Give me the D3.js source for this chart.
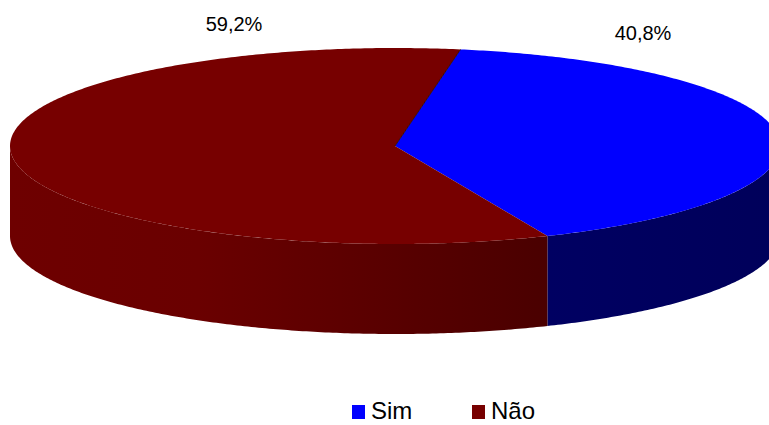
<!DOCTYPE html>
<html>
<head>
<meta charset="utf-8">
<script src="https://cdn.jsdelivr.net/npm/d3@7"></script>
<style>
  html, body { margin: 0; padding: 0; background: #fff; }
  svg { display: block; }
  text { font-family: "Liberation Sans", Arial, sans-serif; fill: #000; }
</style>
</head>
<body>
<svg id="chart" width="769" height="425"></svg>
<script>
// Data
const categories = ["Sim", "Não"];
const values = [40.8, 59.2];
const labels = ["40,8%", "59,2%"];
const topColors = ["#0000ff", "#770000"];

const svg = d3.select("#chart");

// 3D pie geometry
const cx = 395, cy = 146, rx = 385, ry = 98, depth = 90;
const startDeg = 9.8;

const pie = d3.pie()
  .sort(null)
  .value(d => d)
  .startAngle(startDeg * Math.PI / 180)
  .endAngle(startDeg * Math.PI / 180 + 2 * Math.PI);

const arcs = pie(values).map((a, i) => ({ ...a, i }));

// Point on the projected rim at angle t (clockwise from 12 o'clock)
const px = t => cx + rx * Math.sin(t);
const py = (t, dy = 0) => cy - ry * Math.cos(t) + dy;

const line = d3.line().x(d => d[0]).y(d => d[1]);

function rimPoints(a, b, dy) {
  const n = Math.max(2, Math.ceil(Math.abs(b - a) / 0.01));
  return d3.range(n + 1).map(k => {
    const t = a + (b - a) * k / n;
    return [px(t), py(t, dy)];
  });
}

const defs = svg.append("defs");

// Side wall shading
const sideGrads = [
  { id: "side0", stops: [["0%", "#000062"], ["100%", "#00005a"]] },
  { id: "side1", stops: [["0%", "#6e0000"], ["35%", "#6a0000"], ["100%", "#4a0000"]] }
];
sideGrads.forEach(g => {
  const lg = defs.append("linearGradient")
    .attr("id", g.id)
    .attr("x1", "0%").attr("x2", "100%").attr("y1", "0%").attr("y2", "0%");
  g.stops.forEach(s => lg.append("stop").attr("offset", s[0]).attr("stop-color", s[1]));
});

const gSides = svg.append("g");
const gTops = svg.append("g");

// Visible front walls: rim segment between PI/2 and 3PI/2
const front0 = Math.PI / 2, front1 = 3 * Math.PI / 2;
arcs.forEach(a => {
  // handle wrap by testing both the raw range and shifted by 2PI
  [0, -2 * Math.PI].forEach(shift => {
    const s = Math.max(a.startAngle + shift, front0);
    const e = Math.min(a.endAngle + shift, front1);
    if (e > s) {
      const topEdge = rimPoints(s, e, 0);
      const botEdge = rimPoints(e, s, depth);
      gSides.append("path")
        .attr("d", line(topEdge.concat(botEdge)) + "Z")
        .attr("fill", `url(#side${a.i})`);
    }
  });
});

// Top faces
arcs.forEach(a => {
  const pts = [[cx, cy]].concat(rimPoints(a.startAngle, a.endAngle, 0));
  gTops.append("path")
    .attr("d", line(pts) + "Z")
    .attr("fill", topColors[a.i]);
});

// Thin seam along the rear split edge
const seam = arcs[0].startAngle;
gTops.append("line")
  .attr("x1", cx).attr("y1", cy)
  .attr("x2", px(seam)).attr("y2", py(seam))
  .attr("stroke", "#220000").attr("stroke-width", 0.8);

// Percentage labels
const labelPos = [[643, 40], [234, 31]];
svg.append("g").selectAll("text")
  .data(arcs)
  .join("text")
  .attr("x", d => labelPos[d.i][0])
  .attr("y", d => labelPos[d.i][1])
  .attr("text-anchor", "middle")
  .attr("font-size", 20)
  .text(d => labels[d.i]);

// Legend
const legend = svg.append("g");
const legendX = [352, 472];
categories.forEach((c, i) => {
  legend.append("rect")
    .attr("x", legendX[i]).attr("y", 405)
    .attr("width", 13).attr("height", 14)
    .attr("fill", topColors[i]);
  legend.append("text")
    .attr("x", legendX[i] + 19).attr("y", 419)
    .attr("font-size", 24)
    .text(c);
});
</script>
</body>
</html>
